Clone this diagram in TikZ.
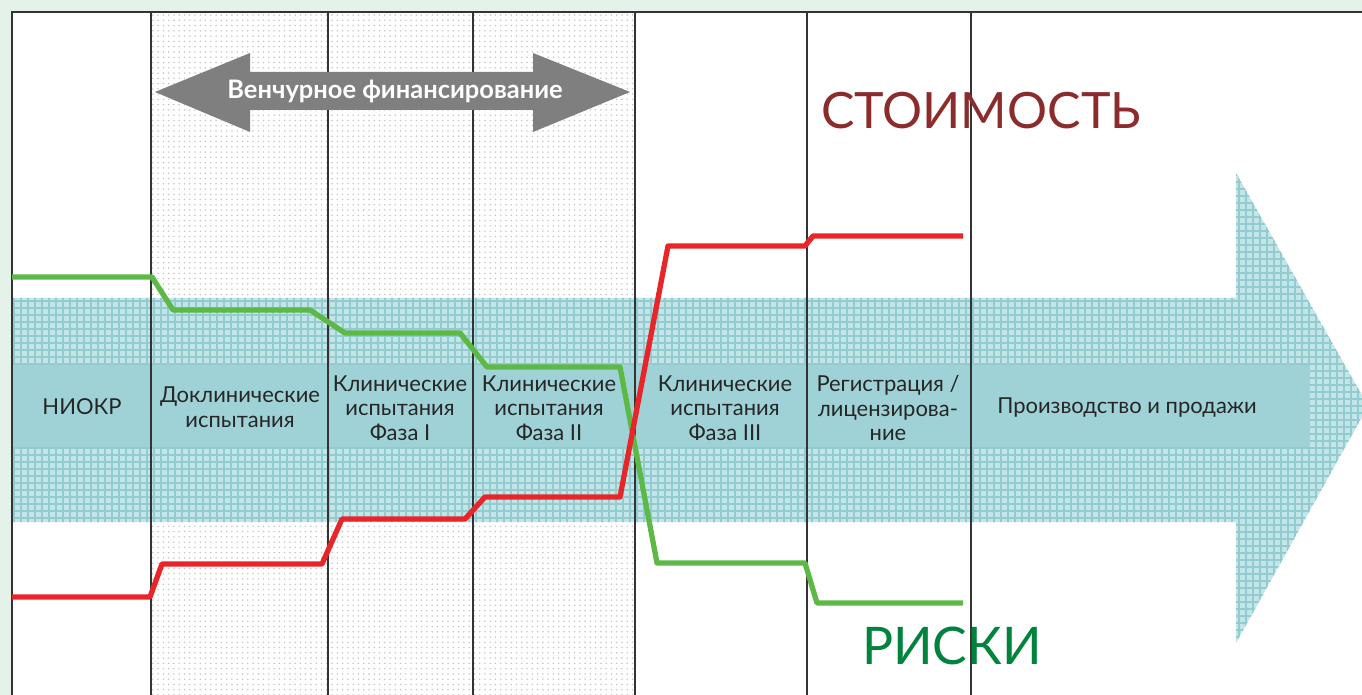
\documentclass[tikz,border=0pt]{standalone}
\usepackage{fontspec}
\setmainfont{Lato}
\usepackage{tikz}
\usetikzlibrary{patterns}

\definecolor{margingreen}{HTML}{E5F2EA}
\definecolor{framegray}{HTML}{333333}
\definecolor{gridlight}{HTML}{C3E5E7}
\definecolor{gridline}{HTML}{92CBD0}
\definecolor{bandblue}{HTML}{9FD2D6}
\definecolor{fundgray}{HTML}{7F7F7F}
\definecolor{costred}{HTML}{8B2B2B}
\definecolor{riskgreen}{HTML}{00843D}
\definecolor{riskline}{HTML}{5DB946}
\definecolor{costline}{HTML}{E8262A}

\tikzset{
    stage/.style={align=center, text=black!85, font=\fontsize{12.5}{14}\selectfont},
    sepline/.style={framegray, line width=1.1pt},
    curve/.style={line width=3pt, line join=round},
}

\begin{document}
\begin{tikzpicture}[x=0.02cm, y=-0.02cm]
    \useasboundingbox (0,0) rectangle (1362,695);
    \clip (0,0) rectangle (1362,695);
    \fill [margingreen] (0,0) rectangle (1362,695);
    \fill [white] (12,12) rectangle (1380,710);
    % dotted zone
    \fill [pattern=dots, pattern color=black!22] (151,12) rectangle (635,710);
    % big arrow
    \begin{scope}
        \clip (12,298) -- (1236,298) -- (1236,173) -- (1368,406) -- (1236,643) -- (1236,522) -- (12,522) -- cycle;
        \fill [gridlight] (0,160) rectangle (1380,660);
        \draw [gridline, line width=0.9pt, step=0.14cm] (0,160) grid (1380,660);
    \end{scope}
    \fill [bandblue] (12,365) rectangle (1310,447);
    % stage separators
    \foreach \x in {151,328,473,635,807,971}
        \draw [sepline] (\x,12) -- (\x,710);
    \draw [framegray, line width=1.6pt] (12,710) -- (12,12) -- (1380,12);
    % venture funding arrow
    \fill [fundgray] (155,92) -- (250,53) -- (250,72) -- (533,72) -- (533,53) -- (630,92) -- (533,132) -- (533,110) -- (250,110) -- (250,132) -- cycle;
    \node (fund) at (395,91) {\color{white}\bfseries\fontsize{14.5}{16}\selectfont Венчурное финансирование};
    % stages
    \node [stage] (niokr) at (82,407) {НИОКР};
    \node [stage] (precl) at (240,407) {Доклинические\\испытания};
    \node [stage] (ph1) at (400,408) {Клинические\\испытания\\Фаза I};
    \node [stage] (ph2) at (549,408) {Клинические\\испытания\\Фаза II};
    \node [stage] (ph3) at (725,408) {Клинические\\испытания\\Фаза III};
    \node [stage] (reg) at (888,408) {Регистрация /\\лицензирова-\\ние};
    \node [stage] (prod) at (1127,408) {Производство и продажи};
    % risk and cost
    \draw [curve, riskline] (12,277) -- (152,277) -- (173,310) -- (310,310) -- (345,333) -- (460,333) -- (487,367) -- (620,367) -- (657,563) -- (805,563) -- (817,603) -- (963,603);
    \draw [curve, costline] (12,597) -- (150,597) -- (162,564) -- (322,564) -- (342,519) -- (465,519) -- (485,497) -- (620,497) -- (668,246) -- (805,246) -- (813,236) -- (963,236);
    \node (cost) at (981,111) {\color{costred}\fontsize{28.5}{31}\selectfont СТОИМОСТЬ};
    \node (risk) at (952,646) {\color{riskgreen}\fontsize{29.5}{32}\selectfont РИСКИ};
\end{tikzpicture}
\end{document}
